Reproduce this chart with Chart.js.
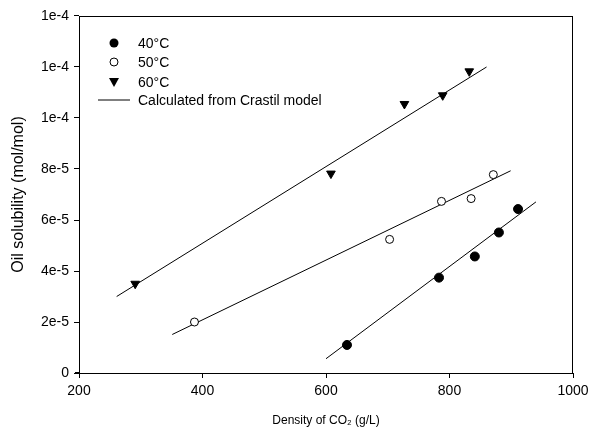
<!DOCTYPE html>
<html><head><meta charset="utf-8">
<script src="https://cdn.jsdelivr.net/npm/chart.js@4.4.0/dist/chart.umd.min.js"></script>
<style>html,body{margin:0;padding:0;background:#fff}#wrap{width:590px;height:428px}</style>
</head><body><div id="wrap"><canvas id="c" width="590" height="428"></canvas></div>
<script>
const seriesNames = ['40°C', '50°C', '60°C'];
const modelName = 'Calculated from Crastil model';
const x40 = [634, 783, 841, 880, 911];
const y40 = [1.1e-5, 3.74e-5, 4.57e-5, 5.51e-5, 6.43e-5];
const x50 = [387, 703, 787, 835, 871];
const y50 = [2.0e-5, 5.24e-5, 6.73e-5, 6.84e-5, 7.78e-5];
const x60 = [291, 608, 727, 789, 832];
const y60 = [3.5e-5, 7.82e-5, 1.055e-4, 1.089e-4, 1.183e-4];
const line40x = [600, 940];
const line40y = [5.6e-6, 6.71e-5];
const line50x = [351, 899];
const line50y = [1.51e-5, 7.93e-5];
const line60x = [261, 860];
const line60y = [3.0e-5, 1.2e-4];
const xTicks = [200, 400, 600, 800, 1000];
const yTickLabels = ['0', '2e-5', '4e-5', '6e-5', '8e-5', '1e-4', '1e-4', '1e-4'];

const pts = (xs, ys) => xs.map((x, i) => ({x: x, y: ys[i]}));
const FONT = 'Liberation Sans, Arial, sans-serif';

const legendPlugin = {
  id: 'insideLegend',
  afterDraw(chart) {
    const ctx = chart.ctx;
    ctx.save();
    ctx.font = '14px ' + FONT;
    ctx.fillStyle = '#000';
    ctx.strokeStyle = '#000';
    ctx.textBaseline = 'middle';
    const mx = 114, tx = 138, rows = [43, 62, 82, 100];
    ctx.beginPath(); ctx.arc(mx, rows[0], 4.5, 0, Math.PI * 2); ctx.fill();
    ctx.lineWidth = 1;
    ctx.beginPath(); ctx.arc(mx, rows[1], 4, 0, Math.PI * 2); ctx.stroke();
    ctx.beginPath(); ctx.moveTo(mx - 5, rows[2] - 4); ctx.lineTo(mx + 5, rows[2] - 4); ctx.lineTo(mx, rows[2] + 5); ctx.closePath(); ctx.fill();
    ctx.beginPath(); ctx.moveTo(98, rows[3]); ctx.lineTo(130, rows[3]); ctx.stroke();
    ctx.textAlign = 'left';
    seriesNames.forEach((s, i) => ctx.fillText(s, tx, rows[i] + 1));
    ctx.fillText(modelName, tx, rows[3] + 1);
    const a = chart.chartArea;
    ctx.beginPath();
    ctx.moveTo(a.left, a.top + 0.5); ctx.lineTo(a.right, a.top + 0.5);
    ctx.moveTo(a.right - 0.5, a.top); ctx.lineTo(a.right - 0.5, a.bottom);
    ctx.moveTo(a.left - 4, a.bottom - 0.5); ctx.lineTo(a.left, a.bottom - 0.5);
    ctx.stroke();
    ctx.restore();
  }
};

new Chart(document.getElementById('c'), {
  type: 'scatter',
  data: {
    datasets: [
      {label: seriesNames[0], data: pts(x40, y40), pointStyle: 'circle', pointRadius: 4.5, backgroundColor: '#000', borderColor: '#000', borderWidth: 1, order: 1},
      {label: seriesNames[1], data: pts(x50, y50), pointStyle: 'circle', pointRadius: 4, backgroundColor: '#fff', borderColor: '#000', borderWidth: 1, order: 1},
      {label: seriesNames[2], data: pts(x60, y60), pointStyle: 'triangle', rotation: 180, pointRadius: 5, backgroundColor: '#000', borderColor: '#000', borderWidth: 1, order: 1},
      {label: modelName, data: pts(line40x, line40y), showLine: true, pointRadius: 0, borderColor: '#000', borderWidth: 1, order: 2},
      {label: modelName, data: pts(line50x, line50y), showLine: true, pointRadius: 0, borderColor: '#000', borderWidth: 1, order: 2},
      {label: modelName, data: pts(line60x, line60y), showLine: true, pointRadius: 0, borderColor: '#000', borderWidth: 1, order: 2}
    ]
  },
  options: {
    responsive: false,
    animation: false,
    layout: {padding: {left: 0, top: 16, right: 17, bottom: 0}},
    plugins: {legend: {display: false}, tooltip: {enabled: false}},
    scales: {
      x: {
        type: 'linear', min: 200, max: 1000,
        afterBuildTicks: s => { s.ticks = xTicks.map(v => ({value: v})); },
        afterFit: s => { s.height = 55; s.paddingRight = 0; s.paddingLeft = 0; },
        grid: {drawOnChartArea: false, drawTicks: true, tickLength: 5, color: '#000'},
        border: {display: true, color: '#000', width: 1},
        ticks: {color: '#000', font: {family: FONT, size: 14}, padding: 5, maxRotation: 0,
          callback: v => String(v)},
        title: {display: true, text: 'Density of CO₂ (g/L)', color: '#000', font: {family: FONT, size: 12}, padding: {top: 8, bottom: 0}}
      },
      y: {
        type: 'linear', min: 0, max: 1.4e-4,
        afterBuildTicks: s => { s.ticks = yTickLabels.map((t, i) => ({value: i * 2e-5})); },
        afterFit: s => { s.width = 79; },
        grid: {drawOnChartArea: false, drawTicks: true, tickLength: 5, color: '#000'},
        border: {display: true, color: '#000', width: 1},
        ticks: {color: '#000', font: {family: FONT, size: 14}, padding: 5,
          callback: (v, i) => yTickLabels[i]},
        title: {display: true, text: 'Oil solubility (mol/mol)', color: '#000', font: {family: FONT, size: 16}, padding: {top: 9, bottom: 6}}
      }
    }
  },
  plugins: [legendPlugin]
});
</script></body></html>
